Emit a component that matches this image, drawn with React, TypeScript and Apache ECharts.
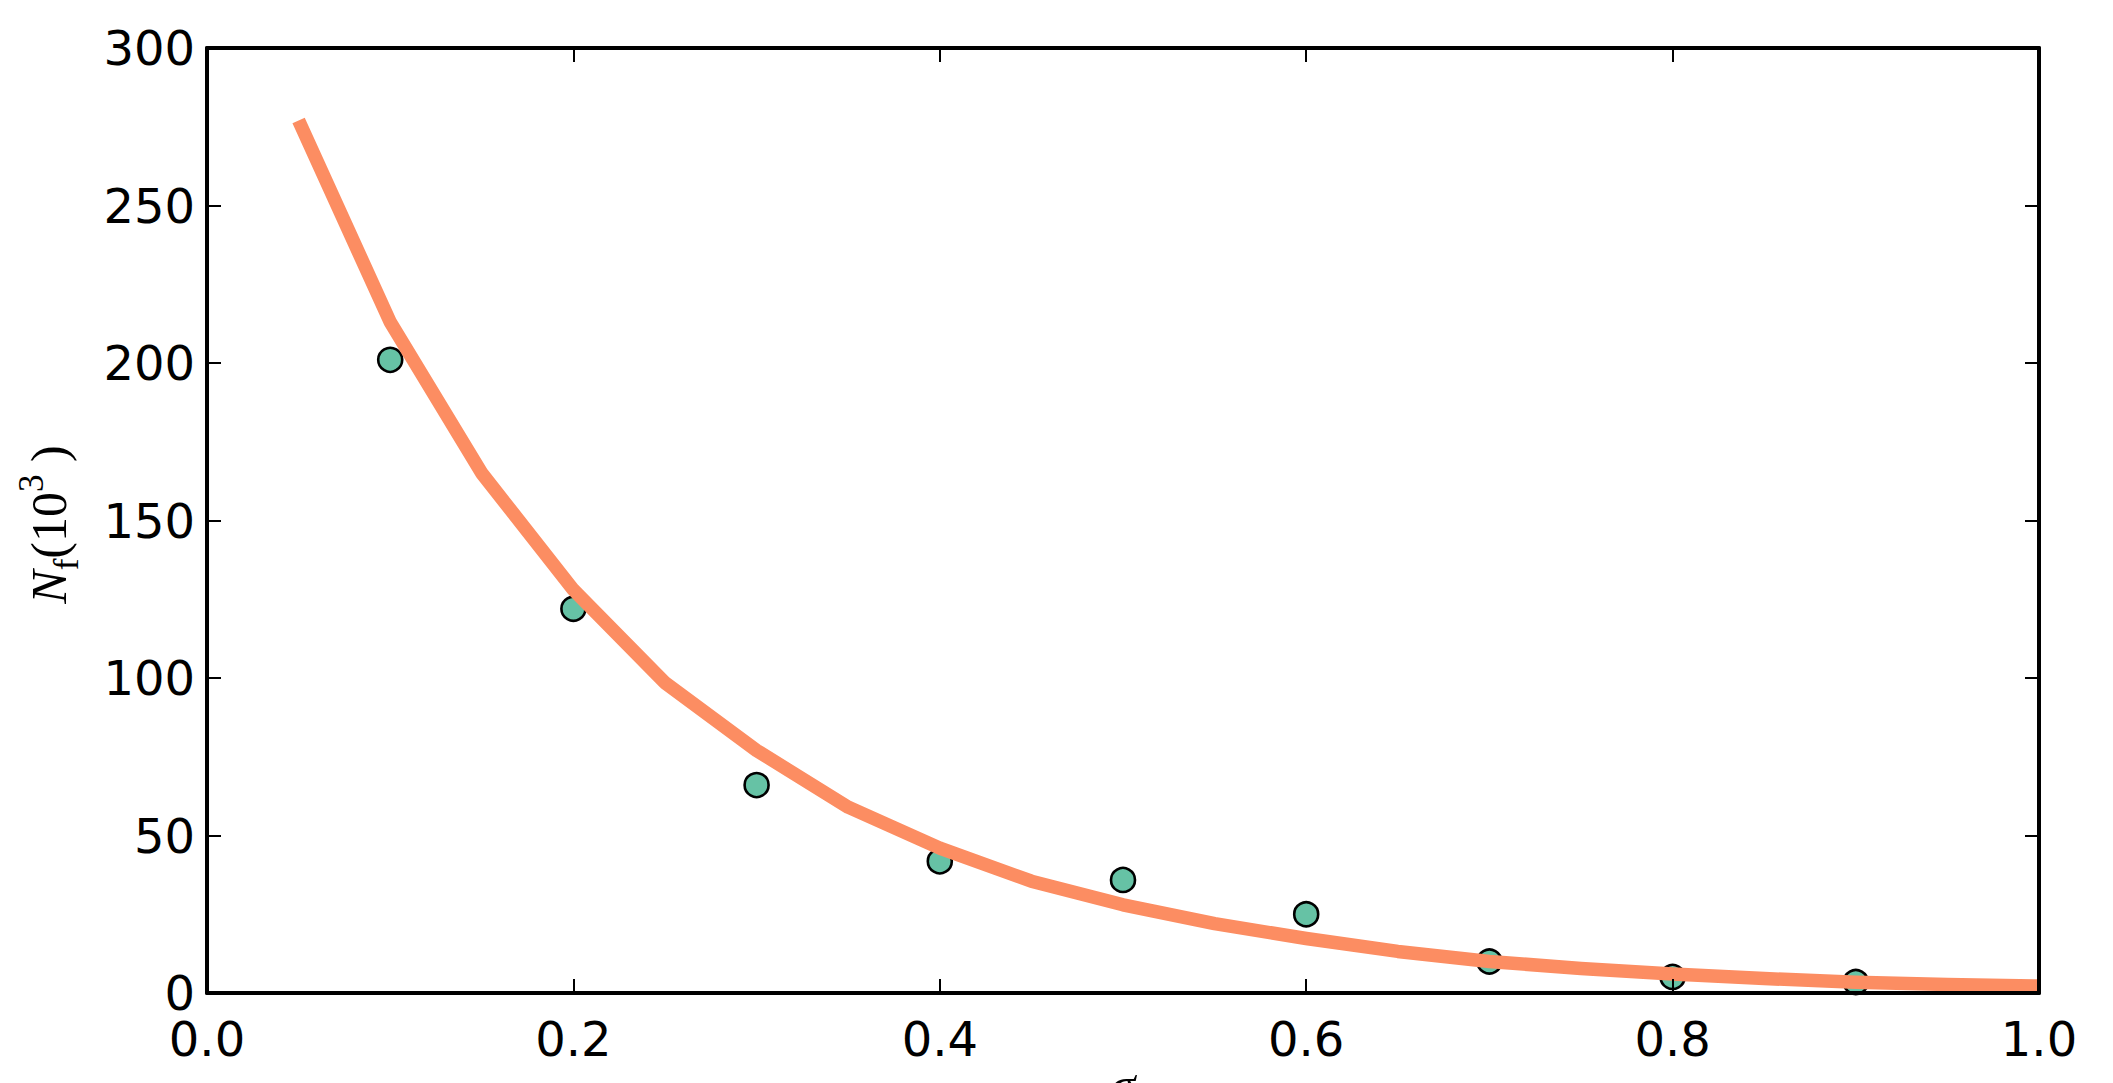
import React, { useEffect, useRef } from "react";
import * as echarts from "echarts";

// Measured points (x = C, y = N_f in 10^3)
const pointX = [0.1, 0.2, 0.3, 0.4, 0.5, 0.6, 0.7, 0.8, 0.9];
const pointY = [201, 122, 66, 41.8, 35.9, 25, 10, 5.1, 3.5];

// Fitted curve samples
const curveX = [0.05, 0.1, 0.15, 0.2, 0.25, 0.3, 0.35, 0.4, 0.45, 0.5, 0.55, 0.6, 0.65, 0.7, 0.75, 0.8, 0.85, 0.9, 0.95, 1.0];
const curveY = [277, 213, 165, 128, 98.5, 77, 59, 46, 35.5, 28, 22, 17.3, 13.2, 10, 7.8, 6.0, 4.6, 3.4, 2.7, 2.2];

const xTicks = [0, 0.2, 0.4, 0.6, 0.8, 1.0];
const yTicks = [0, 50, 100, 150, 200, 250, 300];

const TICK_FONT = "'DejaVu Sans', sans-serif";
const MATH_FONT = "'Liberation Serif', 'DejaVu Serif', serif";

export default function App() {
  const ref = useRef<HTMLDivElement>(null);
  useEffect(() => {
    if (!ref.current) return;
    const chart = echarts.init(ref.current, undefined, { renderer: "svg" });
    const axisLine = { show: true, onZero: false, lineStyle: { color: "#000", width: 4 } };
    const axisTick = { show: true, inside: true, length: 14, lineStyle: { color: "#000", width: 2 } };
    const xMin = xTicks[0];
    const xMax = xTicks[xTicks.length - 1];
    const xInt = xTicks[1] - xTicks[0];
    const yMin = yTicks[0];
    const yMax = yTicks[yTicks.length - 1];
    const yInt = yTicks[1] - yTicks[0];
    chart.setOption({
      animation: false,
      backgroundColor: "#fff",
      grid: { left: 207, right: 74, top: 48, bottom: 90, containLabel: false },
      xAxis: [
        {
          type: "value", min: xMin, max: xMax, interval: xInt, position: "bottom", z: 10,
          axisLine, axisTick, splitLine: { show: false },
          axisLabel: {
            show: true, margin: 22, color: "#000", fontSize: 48, fontFamily: TICK_FONT,
            showMinLabel: true, showMaxLabel: true,
            formatter: (v: number) => v.toFixed(1),
          },
        },
        {
          type: "value", min: xMin, max: xMax, interval: xInt, position: "top", z: 10,
          axisLine, axisTick, splitLine: { show: false }, axisLabel: { show: false },
        },
      ],
      yAxis: [
        {
          type: "value", min: yMin, max: yMax, interval: yInt, position: "left", z: 10,
          axisLine, axisTick, splitLine: { show: false },
          axisLabel: {
            show: true, margin: 12, color: "#000", fontSize: 48, fontFamily: TICK_FONT,
            showMinLabel: true, showMaxLabel: true,
          },
        },
        {
          type: "value", min: yMin, max: yMax, interval: yInt, position: "right", z: 10,
          axisLine, axisTick, splitLine: { show: false }, axisLabel: { show: false },
        },
      ],
      series: [
        {
          type: "scatter",
          data: pointX.map((x, i) => [x, pointY[i]]),
          symbol: "circle",
          symbolSize: 24,
          itemStyle: { color: "#66c2a5", borderColor: "#000", borderWidth: 2.6, opacity: 1 },
          z: 2,
          clip: true,
        },
        {
          type: "line",
          data: curveX.map((x, i) => [x, curveY[i]]),
          showSymbol: false,
          symbol: "none",
          lineStyle: { color: "#fc8d62", width: 13.5, cap: "butt", join: "round" },
          z: 3,
          clip: true,
        },
      ],
      graphic: [
        {
          type: "text",
          x: 48.5,
          y: 524.5,
          rotation: Math.PI / 2,
          style: {
            text: "{n|N}{s|f}{m|(10}{p|3}{m| )}",
            align: "center",
            verticalAlign: "middle",
            fill: "#000",
            rich: {
              n: { fontFamily: MATH_FONT, fontStyle: "italic", fontSize: 50, lineHeight: 70, verticalAlign: "middle", fill: "#000" },
              s: { fontFamily: MATH_FONT, fontSize: 35, lineHeight: 35, verticalAlign: "bottom", fill: "#000" },
              m: { fontFamily: MATH_FONT, fontSize: 50, lineHeight: 70, verticalAlign: "middle", fill: "#000" },
              p: { fontFamily: MATH_FONT, fontSize: 35, lineHeight: 35, verticalAlign: "top", fill: "#000" },
            },
          },
        },
        {
          type: "text",
          x: 1123,
          y: 1060,
          style: {
            text: "σ",
            font: `italic 50px ${MATH_FONT}`,
            align: "center",
            verticalAlign: "top",
            fill: "#000",
          },
        },
      ],
    });
    return () => chart.dispose();
  }, []);
  return (
    <div
      ref={ref}
      style={{ position: "fixed", left: 0, top: 0, width: 2113, height: 1083, background: "#fff" }}
    />
  );
}
